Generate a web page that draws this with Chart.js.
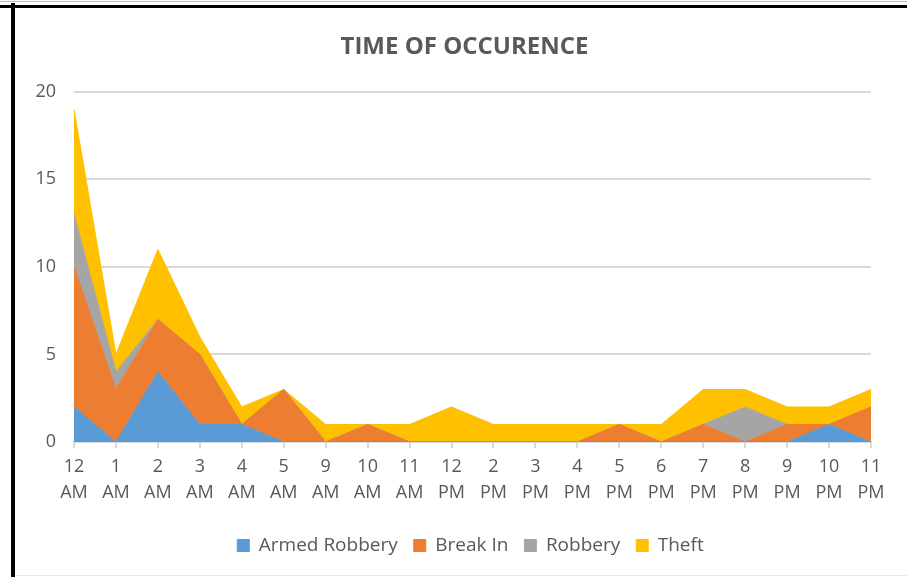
<!DOCTYPE html>
<html>
<head>
<meta charset="utf-8">
<script src="https://cdn.jsdelivr.net/npm/chart.js@4/dist/chart.umd.min.js"></script>
<style>
  html, body { margin: 0; padding: 0; background: #fff; }
  #wrap { position: relative; width: 907px; height: 577px; overflow: hidden; }
  #chart { position: absolute; left: 0; top: 0; }
  .frame-top { position: absolute; left: 0; top: 5px; width: 907px; height: 3px; background: #000; }
  .frame-top2 { position: absolute; left: 0; top: 1px; width: 907px; height: 1px; background: #bbb; }
  .frame-left { position: absolute; left: 11px; top: 3px; width: 4px; height: 574px; background: #000; }
  .frame-bottom { position: absolute; left: 15px; top: 575px; width: 892px; height: 1px; background: #e6e6e6; }
</style>
</head>
<body>
<div id="wrap">
  <canvas id="chart" width="907" height="577"></canvas>
  <div class="frame-top2"></div>
  <div class="frame-top"></div>
  <div class="frame-left"></div>
  <div class="frame-bottom"></div>
</div>
<script>
// Time of occurrence — stacked area, Excel style

const HOURS = [
  ['12', 'AM'], ['1', 'AM'], ['2', 'AM'], ['3', 'AM'], ['4', 'AM'], ['5', 'AM'],
  ['9', 'AM'], ['10', 'AM'], ['11', 'AM'], ['12', 'PM'], ['2', 'PM'], ['3', 'PM'],
  ['4', 'PM'], ['5', 'PM'], ['6', 'PM'], ['7', 'PM'], ['8', 'PM'], ['9', 'PM'],
  ['10', 'PM'], ['11', 'PM']
];

const armedRobbery = [2, 0, 4, 1, 1, 0, 0, 0, 0, 0, 0, 0, 0, 0, 0, 0, 0, 0, 1, 0];
const breakIn      = [8, 3, 3, 4, 0, 3, 0, 1, 0, 0, 0, 0, 0, 1, 0, 1, 0, 1, 0, 2];
const robbery      = [3, 1, 0, 0, 0, 0, 0, 0, 0, 0, 0, 0, 0, 0, 0, 0, 2, 0, 0, 0];
const theft        = [6, 1, 4, 1, 1, 0, 1, 0, 1, 2, 1, 1, 1, 0, 1, 2, 1, 1, 1, 1];

const Y_TICKS = { min: 0, max: 20, step: 5 };

const COLORS = {
  armed: '#5b9bd5',
  breakIn: '#ed7d31',
  robbery: '#a5a5a5',
  theft: '#ffc000',
  grid: '#d9d9d9',
  text: '#595959'
};

const FONT = "'Open Sans', 'Liberation Sans', sans-serif";

function area(label, data, color, fill) {
  return {
    label, data, fill,
    backgroundColor: color,
    borderColor: color,
    borderWidth: 1,
    pointRadius: 0,
    tension: 0
  };
}

// Excel centres title and legend a little right of the canvas middle
const shiftBlocks = {
  id: 'shiftBlocks',
  afterLayout(chart) {
    if (chart.titleBlock) chart.titleBlock.left += 38;
    if (chart.legend) chart.legend.left += 50;
  }
};

new Chart(document.getElementById('chart'), {
  type: 'line',
  data: {
    labels: HOURS,
    datasets: [
      area('Armed Robbery', armedRobbery, COLORS.armed, 'origin'),
      area('Break In', breakIn, COLORS.breakIn, '-1'),
      area('Robbery', robbery, COLORS.robbery, '-1'),
      area('Theft', theft, COLORS.theft, '-1')
    ]
  },
  plugins: [shiftBlocks],
  options: {
    responsive: false,
    animation: false,
    layout: { padding: { left: 20, right: 36, top: 0, bottom: 12 } },
    plugins: {
      title: {
        display: true,
        text: 'TIME OF OCCURENCE',
        color: COLORS.text,
        font: { family: FONT, size: 24, weight: 'bold' },
        padding: { top: 33, bottom: 30 }
      },
      legend: {
        position: 'bottom',
        labels: {
          color: COLORS.text,
          font: { family: FONT, size: 19 },
          boxWidth: 12,
          boxHeight: 12,
          padding: 16
        }
      },
      tooltip: { enabled: false }
    },
    scales: {
      x: {
        offset: false,
        grid: {
          drawOnChartArea: false,
          drawTicks: true,
          tickLength: 6,
          color: COLORS.grid,
          lineWidth: 2
        },
        border: { color: COLORS.grid, width: 2 },
        ticks: {
          color: COLORS.text,
          font: { family: FONT, size: 18, lineHeight: 1.45 },
          padding: 6,
          maxRotation: 0,
          autoSkip: false
        },
        afterFit: s => { s.height = 78; }
      },
      y: {
        stacked: true,
        min: Y_TICKS.min,
        max: Y_TICKS.max,
        grid: { color: COLORS.grid, lineWidth: 2, drawTicks: false },
        border: { display: false },
        ticks: {
          stepSize: Y_TICKS.step,
          color: COLORS.text,
          font: { family: FONT, size: 18 },
          padding: 18
        },
        afterFit: s => { s.width = 54; }
      }
    }
  }
});
</script>
</body>
</html>
